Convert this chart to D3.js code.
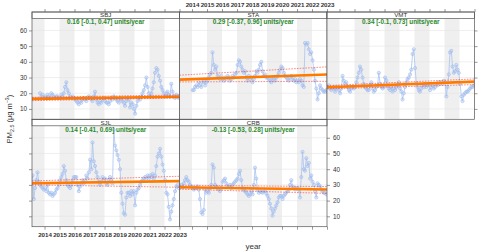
<!DOCTYPE html>
<html>
<head>
<meta charset="utf-8">
<script src="https://cdn.jsdelivr.net/npm/d3@7"></script>
<style>
  body { margin: 0; background: #fff; }
  svg { display: block; font-family: "Liberation Sans", Arial, sans-serif; }
</style>
</head>
<body>
<svg id="chart" width="480" height="252"></svg>
<script>
// panel names, in lattice order (left to right, top row first)
const sites = ["SBJ", "STA", "VMT", "SJL", "CRB"];

// Theil-Sen slope and its confidence interval (units/year)
const slopes = [0.16, 0.29, 0.34, 0.14, -0.13];
const slopesLow = [-0.1, -0.37, -0.1, -0.41, -0.53];
const slopesHigh = [0.47, 0.96, 0.73, 0.69, 0.28];

// trend and interval lines, value at left and right edge of the panel
const trendEnds = [[16.4, 17.8], [28.7, 31.9], [23.8, 27.4], [31.0, 32.4], [28.5, 27.1]];
const lowerEnds = [[15.3, 17.0], [27.2, 27.6], [22.8, 25.5], [30.0, 28.5], [27.3, 24.6]];
const upperEnds = [[17.4, 18.9], [31.5, 36.8], [24.9, 29.1], [32.5, 35.5], [29.8, 28.9]];

// first month of each monthly series [year, month]
const seriesStart = [[2013, 9], [2014, 1], [2013, 3], [2013, 3], [2013, 3]];

// monthly means, PM2.5
const sbjValues = [
  20, 18, 19, 17,
  18, 17, 19, 18, 17, 20, 19, 18, 17, 18, 18, 17,
  17, 19, 18, 20, 24, 27, 22, 20, 18, 17, 18, 17,
  16, 15, 14, 13, 15, 14, 16, 17, 16, 15, 17, 18,
  17, 16, 15, 18, 21, 16, 14, 13, 15, 14, 16, 17,
  15, 14, 14, 13, 15, 17, 16, 18, 17, 16, 15, 14,
  17, 16, 15, 14, 12, 15, 17, 16, 11, 14, 13, 10,
  7, 12, 15, 17, 16, 18, 20, 22, 25, 30, 24, 20,
  18, 20, 23, 27, 33, 36, 35, 31, 28, 24, 22, 20,
  18, 20, 21, 19, 18, 26, 21, 18, 17, 19, 18, 17
];
const staValues = [
  22, 22, 24, 25, 24, 27, 25, 24, 27, 28, 25, 27,
  28, 30, 32, 33, 46, 38, 35, 37, 31, 30, 29, 31,
  29, 28, 30, 29, 31, 30, 28, 29, 31, 30, 32, 33,
  38, 41, 40, 37, 35, 33, 34, 30, 28, 31, 29, 30,
  27, 29, 31, 34, 33, 35, 38, 40, 34, 31, 32, 30,
  30, 29, 28, 27, 30, 29, 28, 30, 31, 33, 35, 37,
  36, 33, 31, 30, 29, 28, 30, 31, 29, 28, 29, 27,
  28, 27, 29, 28, 25, 24, 52, 51, 52, 48, 45, 46,
  41, 35, 28, 23, 16, 20, 25, 23, 22, 21, 21, 22
];
const vmtValues = [
  24, 25, 23, 22, 23, 24, 21, 23, 24, 22,
  20, 23, 31, 28, 26, 27, 24, 22, 21, 23, 24, 23,
  24, 27, 30, 33, 37, 35, 30, 26, 24, 23, 22, 22,
  25, 27, 23, 21, 22, 24, 25, 33, 26, 24, 23, 24,
  30, 28, 25, 23, 22, 24, 21, 23, 22, 24, 25, 27,
  23, 21, 16, 20, 24, 27, 29, 30, 32, 35, 45, 48,
  36, 26, 24, 22, 21, 23, 25, 24, 26, 24, 25, 26,
  22, 24, 25, 23, 24, 26, 25, 27, 26, 27, 26, 28,
  27, 18, 24, 32, 46, 47, 37, 33, 34, 38, 35, 33,
  26, 18, 15, 19, 20, 21, 21, 22, 23, 24, 24, 25
];
const sjlValues = [
  36, 21, 28, 33, 38, 32, 30, 29, 28, 27,
  28, 26, 30, 25, 24, 25, 23, 24, 25, 27, 28, 30,
  33, 35, 37, 42, 39, 33, 30, 29, 28, 30, 33, 35,
  35, 35, 30, 26, 29, 31, 33, 31, 33, 36, 34, 38,
  46, 40, 57, 45, 42, 38, 35, 32, 30, 32, 35, 33,
  34, 31, 30, 33, 35, 33, 31, 65, 55, 52, 49, 46,
  40, 25, 18, 12, 11, 22, 25, 25, 23, 26, 24, 26,
  17, 25, 27, 28, 30, 32, 33, 34, 35, 34, 36, 34,
  36, 35, 37, 34, 36, 42, 48, 50, 53, 48, 43, 39,
  33, 25, 24, 16, 8, 13, 17, 21, 26, 29, 30, 28
];
const crbValues = [
  28.5, 30, 28.5, 31, 33, 35, 33, 32, 30, 29,
  28, 27, 28, 28, 29, 27, 21, 12.5, 11.5, 14, 27, 25,
  26, 25, 28, 30, 43, 41, 30, 29, 28, 27, 26, 28,
  32, 33, 34, 31, 29, 29, 30, 28, 30, 31, 32, 33,
  34, 37, 39, 33, 28, 27, 26, 25, 24, 23, 24, 26,
  24, 30, 41, 34, 27, 25, 26, 25.5, 25, 26, 26, 24.5,
  23, 21, 18, 15, 10.5, 13, 15, 17, 19, 22, 23, 23,
  21, 23, 24, 25, 26, 27, 30, 33, 29, 28, 27, 28,
  28, 27, 22, 35, 51, 40, 39, 47, 42, 44, 34, 36,
  32, 30, 26, 22, 31, 30, 29, 27, 26, 25, 25, 24
];
const seriesValues = [sbjValues, staValues, vmtValues, sjlValues, crbValues];

// axes
const yearTicks = [2014, 2015, 2016, 2017, 2018, 2019, 2020, 2021, 2022, 2023];
const yTicks = [10, 20, 30, 40, 50, 60];
const shadedYears = [2013, 2015, 2017, 2019, 2021];
const xDomain = [new Date(2013, 2, 2), new Date(2023, 0, 1)];
const yDomain = [3.4, 67.6];

// layout
const colX = [32, 179.5, 327];
const panelW = 147.5;
const rowTop = [12, 119.3];
const stripH = 6.5;
const plotBottom = [119.3, 226.7];

const svg = d3.select("#chart");

function fmtNum(v) {
  return String(v).replace("-", "-");
}

sites.forEach(function (site, i) {
  const col = i % 3, row = Math.floor(i / 3);
  const x0 = colX[col], x1 = x0 + panelW;
  const top = rowTop[row] + stripH, bottom = plotBottom[row];

  const x = d3.scaleTime().domain(xDomain).range([x0, x1]);
  const y = d3.scaleLinear().domain(yDomain).range([bottom, top]);

  const g = svg.append("g").attr("class", "panel");

  g.append("clipPath").attr("id", "clip" + i)
    .append("rect").attr("x", x0).attr("y", top).attr("width", panelW).attr("height", bottom - top);

  const plot = g.append("g").attr("clip-path", "url(#clip" + i + ")");

  // alternate year shading
  plot.selectAll("rect.band")
    .data(shadedYears)
    .join("rect")
    .attr("class", "band")
    .attr("x", function (d) { return x(new Date(d, 0, 1)); })
    .attr("width", function (d) { return x(new Date(d + 1, 0, 1)) - x(new Date(d, 0, 1)); })
    .attr("y", top)
    .attr("height", bottom - top)
    .attr("fill", "#efefef");

  // horizontal grid
  plot.selectAll("line.grid")
    .data(yTicks)
    .join("line")
    .attr("class", "grid")
    .attr("x1", x0).attr("x2", x1)
    .attr("y1", function (d) { return y(d); })
    .attr("y2", function (d) { return y(d); })
    .attr("stroke", "#e4e4e4")
    .attr("stroke-width", 0.6);

  // monthly series
  const start = seriesStart[i];
  const data = seriesValues[i].map(function (v, k) {
    return { date: new Date(start[0], start[1] - 1 + k, 15), value: v };
  });

  const line = d3.line()
    .x(function (d) { return x(d.date); })
    .y(function (d) { return y(d.value); });

  plot.append("path")
    .datum(data)
    .attr("d", line)
    .attr("fill", "none")
    .attr("stroke", "#a9c3f0")
    .attr("stroke-width", 0.8);

  plot.selectAll("circle")
    .data(data)
    .join("circle")
    .attr("cx", function (d) { return x(d.date); })
    .attr("cy", function (d) { return y(d.value); })
    .attr("r", 1.6)
    .attr("fill", "rgba(175,200,242,0.35)")
    .attr("stroke", "#9fbbee")
    .attr("stroke-width", 0.6);

  // trend and interval
  const edgeLine = d3.line()
    .x(function (d, k) { return x(xDomain[k]); })
    .y(function (d) { return y(d); });

  plot.append("path")
    .attr("d", edgeLine(trendEnds[i]))
    .attr("fill", "none")
    .attr("stroke", "#ff7b00")
    .attr("stroke-width", 2.6);

  [lowerEnds[i], upperEnds[i]].forEach(function (ends) {
    plot.append("path")
      .attr("d", edgeLine(ends))
      .attr("fill", "none")
      .attr("stroke", "#f23a3a")
      .attr("stroke-width", 0.7)
      .attr("stroke-dasharray", "1.6,1.2")
      .attr("opacity", 0.85);
  });

  // slope text
  g.append("text")
    .attr("x", (x0 + x1) / 2)
    .attr("y", top + 5.8)
    .attr("text-anchor", "middle")
    .attr("font-size", 6.4)
    .attr("font-weight", "bold")
    .attr("fill", "#2a8a2a")
    .text(fmtNum(slopes[i]) + " [" + fmtNum(slopesLow[i]) + ", " + fmtNum(slopesHigh[i]) + "] units/year");

  // strip
  g.append("rect")
    .attr("x", x0).attr("y", rowTop[row])
    .attr("width", panelW).attr("height", stripH)
    .attr("fill", "#fff")
    .attr("stroke", "#555")
    .attr("stroke-width", 0.7);
  g.append("text")
    .attr("x", (x0 + x1) / 2)
    .attr("y", rowTop[row] + stripH - 1.2)
    .attr("text-anchor", "middle")
    .attr("font-size", 6.2)
    .attr("fill", "#333")
    .text(site);

  // panel border
  g.append("rect")
    .attr("x", x0).attr("y", rowTop[row])
    .attr("width", panelW).attr("height", bottom - rowTop[row])
    .attr("fill", "none")
    .attr("stroke", "#555")
    .attr("stroke-width", 0.7);

  // axes, lattice style alternation
  const yearDates = yearTicks.map(function (yr) { return new Date(yr, 0, 1); });
  if (row === 0) {
    const ax = d3.axisTop(x).tickValues(yearDates).tickSize(3).tickPadding(2)
      .tickFormat(col === 1 ? d3.timeFormat("%Y") : function () { return ""; });
    g.append("g").attr("class", "xaxis").attr("transform", "translate(0," + rowTop[0] + ")").call(ax);
  }
  if (row === 1) {
    const ax = d3.axisBottom(x).tickValues(yearDates).tickSize(3).tickPadding(2.5)
      .tickFormat(col === 0 ? d3.timeFormat("%Y") : function () { return ""; });
    g.append("g").attr("class", "xaxis").attr("transform", "translate(0," + bottom + ")").call(ax);
  }
  if (col === 0) {
    const ay = d3.axisLeft(y).tickValues(yTicks).tickSize(3).tickPadding(2)
      .tickFormat(row === 0 ? d3.format("d") : function () { return ""; });
    g.append("g").attr("class", "yaxis").attr("transform", "translate(" + x0 + ",0)").call(ay);
  }
  if (i === 2 || i === 4) {
    const ay = d3.axisRight(y).tickValues(yTicks).tickSize(3).tickPadding(3)
      .tickFormat(row === 1 ? d3.format("d") : function () { return ""; });
    g.append("g").attr("class", "yaxis").attr("transform", "translate(" + x1 + ",0)").call(ay);
  }
});

svg.selectAll(".domain").remove();
svg.selectAll(".tick line").attr("stroke", "#555").attr("stroke-width", 0.6);
svg.selectAll(".xaxis text").attr("font-size", 6.2).attr("font-weight", "bold").attr("fill", "#333")
  .attr("font-family", "Liberation Sans, Arial, sans-serif");
svg.selectAll(".yaxis text").attr("font-size", 6.4).attr("fill", "#333")
  .attr("font-family", "Liberation Sans, Arial, sans-serif");

// axis titles
svg.append("text")
  .attr("x", (colX[0] + colX[2] + panelW) / 2)
  .attr("y", 249)
  .attr("text-anchor", "middle")
  .attr("font-size", 8)
  .attr("fill", "#333")
  .text("year");

const ylab = svg.append("text")
  .attr("transform", "translate(12,119) rotate(-90)")
  .attr("text-anchor", "middle")
  .attr("font-size", 7.5)
  .attr("fill", "#333");
ylab.append("tspan").text("PM");
ylab.append("tspan").attr("font-size", 5.2).attr("dy", 2).text("2.5");
ylab.append("tspan").attr("dy", -2).text(" (\u03bcg m");
ylab.append("tspan").attr("font-size", 5.2).attr("dy", -3).text("\u22123");
ylab.append("tspan").attr("dy", 3).text(")");
</script>
</body>
</html>
